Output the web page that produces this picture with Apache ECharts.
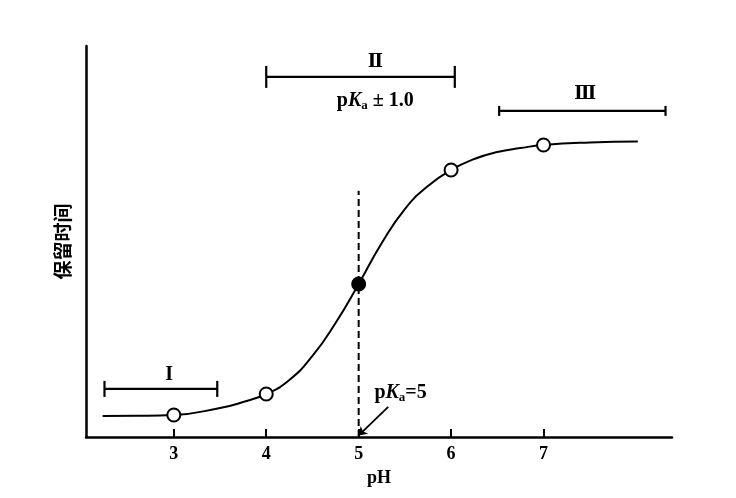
<!DOCTYPE html>
<html>
<head>
<meta charset="utf-8">
<script src="https://cdn.jsdelivr.net/npm/echarts@6/dist/echarts.min.js"></script>
<style>html,body{margin:0;padding:0;background:#fff}#c{width:736px;height:498px}</style>
</head>
<body>
<div id="c"></div>
<script>
// ---- data ----
var xTicks = [3, 4, 5, 6, 7];
var curveX = [2.23, 2.6, 3.0, 3.5, 3.75, 4.0, 4.25, 4.5, 4.75, 5.0, 5.25, 5.5, 5.75, 6.0, 6.25, 6.5, 6.75, 7.0, 7.5, 8.02];
var curveY = [5.37, 5.42, 5.63, 7.42, 8.95, 11.0, 14.58, 20.72, 29.16, 39.13, 49.62, 58.31, 64.19, 68.29, 71.1, 72.89, 73.9, 74.68, 75.32, 75.58];
var pointX = [3, 4, 5, 6, 7];
var pointY = [5.63, 11.0, 39.13, 68.29, 74.68];
var pointFilled = [false, false, true, false, false];
var rangeNames = ['I', 'Ⅱ', 'Ⅲ'];
var rangeFrom = [2.25, 4.0, 6.52];
var rangeTo = [3.47, 6.04, 8.32];
var rangeLevel = [12.3, 92.1, 83.4];
var rangeLabelX = [2.95, 5.18, 7.45];
var rangeLabelY = [15.9, 95.9, 87.7];
var pkaLineX = [5, 5];
var pkaLineY = [0, 63];
var pkaRangeLabel = { x: 5.18, y: 86.0, text: '± 1.0' };
var pkaValueLabel = { x: 5.17, y: 11.3, text: '=5' };
var pkaArrow = [[5.32, 7.7], [5.0, 0.4]];
var xName = 'pH';
var yName = '保留时间';

// ---- styles ----
var SERIF = '"Liberation Serif","DejaVu Serif",serif';
var capHalf = [8, 11, 5];
var richPka = {
  p: { fontFamily: SERIF, fontWeight: 'bold', fontSize: 20, fill: '#000' },
  k: { fontFamily: SERIF, fontWeight: 'bold', fontStyle: 'italic', fontSize: 20, fill: '#000' },
  s: { fontFamily: SERIF, fontWeight: 'bold', fontSize: 13, fill: '#000', padding: [9, 0, 0, 0] },
  n: { fontFamily: SERIF, fontWeight: 'bold', fontSize: 20, fill: '#000' }
};

var chart = echarts.init(document.getElementById('c'));

var rangeData = rangeNames.map(function (n, i) { return [rangeFrom[i], rangeTo[i], rangeLevel[i], rangeLabelX[i], rangeLabelY[i], i]; });

var option = {
  animation: false,
  backgroundColor: '#fff',
  grid: { left: 86, right: 64, top: 46, bottom: 61 },
  xAxis: {
    type: 'value', min: 2.05, max: 8.39,
    axisLine: { lineStyle: { color: '#000', width: 2.5 } },
    axisTick: { inside: true, length: 8, lineStyle: { color: '#000', width: 2 }, customValues: xTicks },
    axisLabel: { customValues: xTicks, color: '#000', fontFamily: SERIF, fontWeight: 'bold', fontSize: 18, margin: 8 },
    splitLine: { show: false },
    name: xName, nameLocation: 'middle', nameGap: 32,
    nameTextStyle: { color: '#000', fontFamily: SERIF, fontWeight: 'bold', fontSize: 18 }
  },
  yAxis: {
    type: 'value', min: 0, max: 100,
    axisLine: { show: true, lineStyle: { color: '#000', width: 2.5 } },
    axisTick: { show: false }, axisLabel: { show: false }, splitLine: { show: false },
    name: yName, nameLocation: 'middle', nameGap: 14, nameRotate: 90,
    nameTextStyle: { color: '#000', fontFamily: '"Noto Sans CJK SC"', fontWeight: 'bold', fontSize: 19 }
  },
  series: [
    {
      type: 'line', data: curveX.map(function (x, i) { return [x, curveY[i]]; }),
      smooth: 0.5, symbol: 'none', lineStyle: { color: '#000', width: 2 }, z: 2
    },
    {
      type: 'line', data: pkaLineX.map(function (x, i) { return [x, pkaLineY[i]]; }),
      symbol: 'none', lineStyle: { color: '#000', width: 2, type: [7, 4] }, z: 1
    },
    {
      type: 'scatter', symbol: 'circle', symbolSize: 13, z: 5,
      data: pointX.map(function (x, i) {
        return { value: [x, pointY[i]], itemStyle: { color: pointFilled[i] ? '#000' : '#fff', borderColor: '#000', borderWidth: 2, opacity: 1 } };
      })
    },
    {
      type: 'custom', z: 3,
      data: rangeData,
      renderItem: function (params, api) {
        var i = api.value(5);
        var a = api.coord([api.value(0), api.value(2)]);
        var b = api.coord([api.value(1), api.value(2)]);
        var l = api.coord([api.value(3), api.value(4)]);
        var h = capHalf[i];
        var st = { stroke: '#000', lineWidth: 2.2 };
        return {
          type: 'group', children: [
            { type: 'line', shape: { x1: a[0], y1: a[1], x2: b[0], y2: b[1] }, style: st },
            { type: 'line', shape: { x1: a[0], y1: a[1] - h, x2: a[0], y2: a[1] + h }, style: st },
            { type: 'line', shape: { x1: b[0], y1: b[1] - h, x2: b[0], y2: b[1] + h }, style: st },
            { type: 'text', x: l[0], y: l[1], style: { text: rangeNames[i], align: 'center', verticalAlign: 'middle', fill: '#000',
              font: 'bold ' + (i === 0 ? 20 : 18) + 'px ' + (i === 0 ? SERIF : '"DejaVu Serif","Noto Sans CJK SC"') } }
          ]
        };
      }
    },
    {
      type: 'custom', z: 3,
      data: [[pkaRangeLabel.x, pkaRangeLabel.y, 0], [pkaValueLabel.x, pkaValueLabel.y, 1]],
      renderItem: function (params, api) {
        var p = api.coord([api.value(0), api.value(1)]);
        var idx = api.value(2);
        var t = idx === 0 ? '{p|p}{k|K}{s|a}{n| ' + pkaRangeLabel.text + '}' : '{p|p}{k|K}{s|a}{n|' + pkaValueLabel.text + '}';
        return { type: 'text', x: p[0], y: p[1], style: { text: t, rich: richPka, align: idx === 0 ? 'center' : 'left', verticalAlign: 'middle' } };
      }
    },
    {
      type: 'lines', coordinateSystem: 'cartesian2d', z: 4,
      symbol: ['none', 'arrow'], symbolSize: 8,
      lineStyle: { color: '#000', width: 1.8, opacity: 1 },
      data: [{ coords: pkaArrow }]
    }
  ]
};
chart.setOption(option);
</script>
</body>
</html>
